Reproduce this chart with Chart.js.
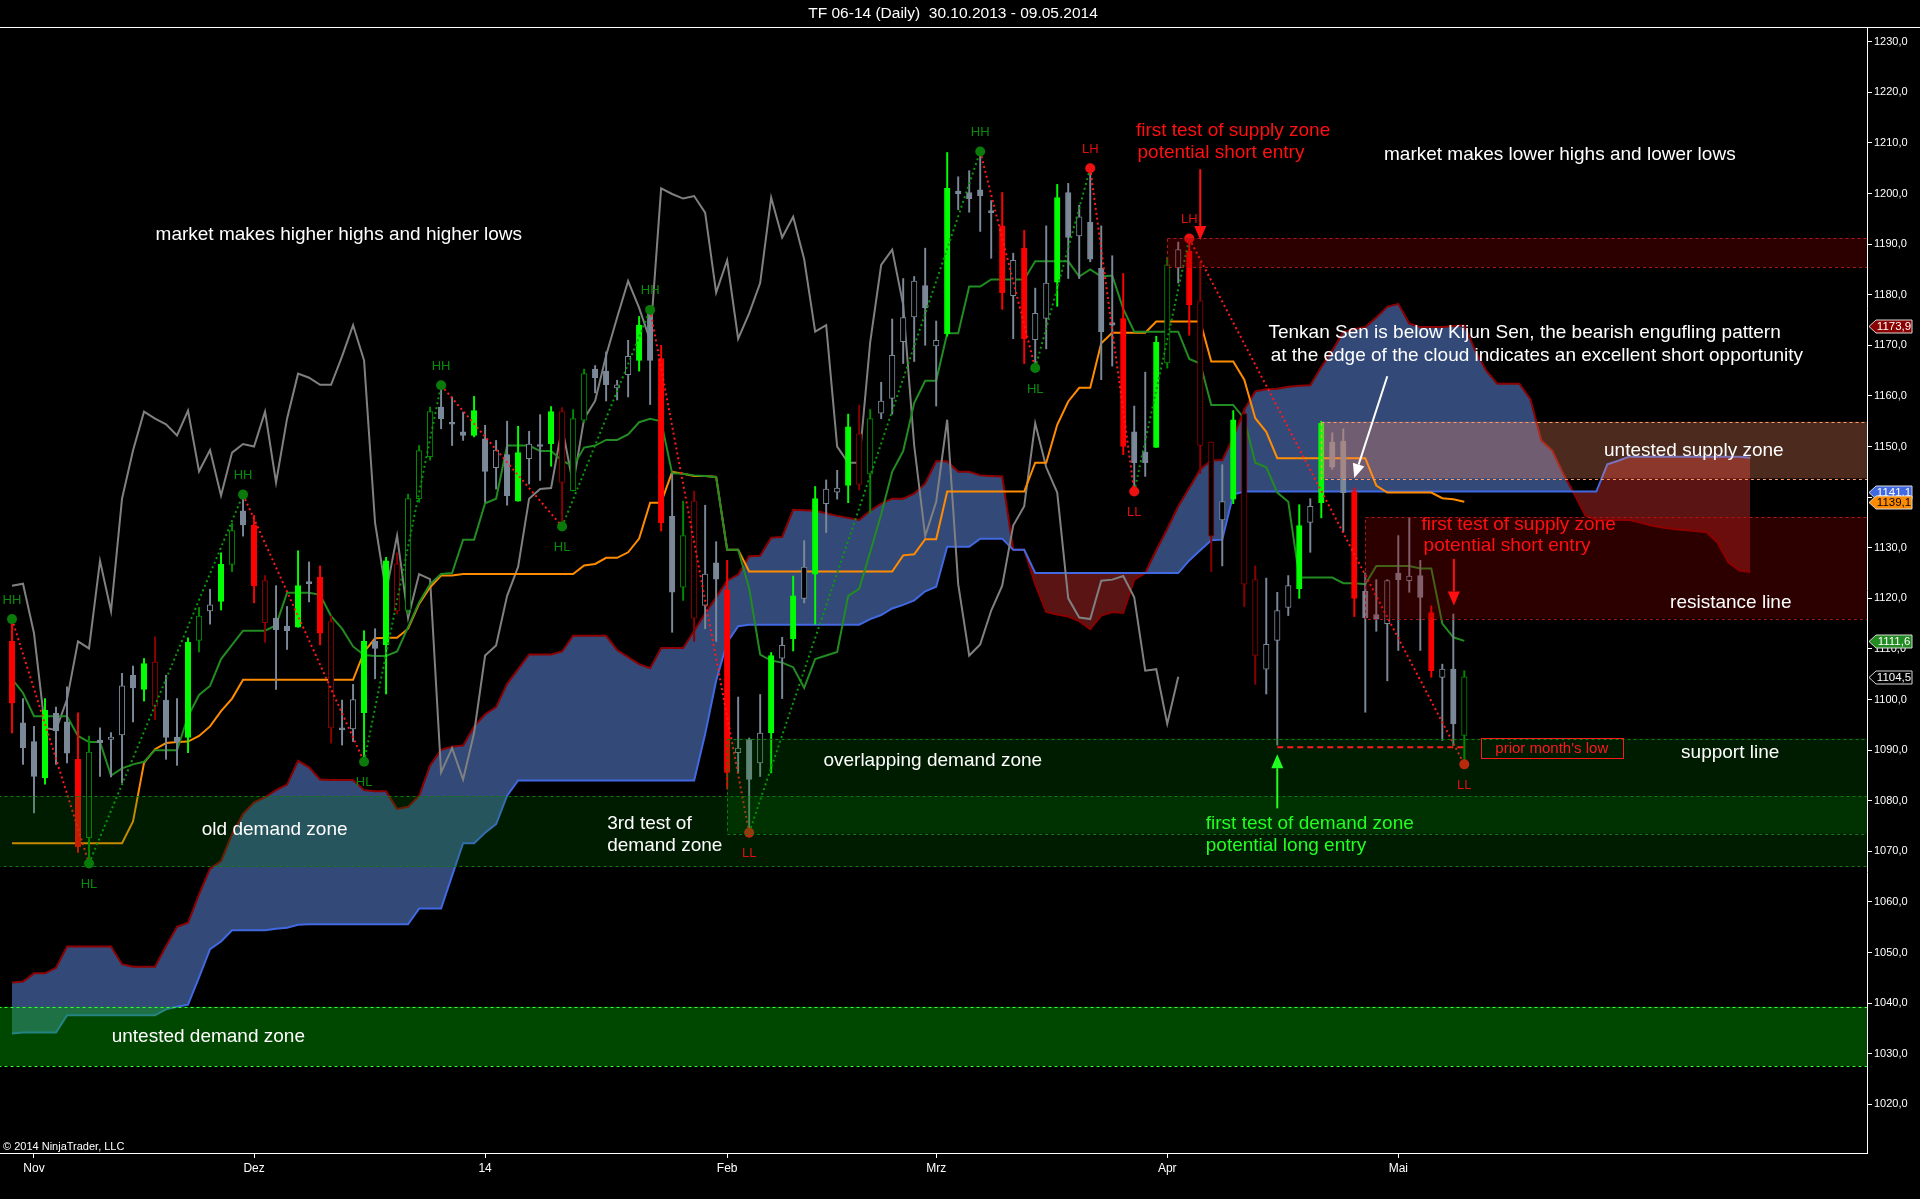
<!DOCTYPE html>
<html>
<head>
<meta charset="utf-8">
<title>TF 06-14 (Daily)</title>
<script src="https://cdn.jsdelivr.net/npm/chart.js@4.4.1/dist/chart.umd.min.js"></script>
<style>
  html, body { margin: 0; padding: 0; background: #000; overflow: hidden; }
  #chart { display: block; }
</style>
</head>
<body>
<canvas id="chart" width="1920" height="1199"></canvas>
<script>
// x axis: one slot per daily bar, months marked where they start
const monthTicks = [2, 22, 43, 65, 84, 105, 126];
const monthLabels = ['Nov', 'Dez', '14', 'Feb', 'Mrz', 'Apr', 'Mai'];
const priceTicks = [1020, 1030, 1040, 1050, 1060, 1070, 1080, 1090, 1100, 1110, 1120,
  1130, 1140, 1150, 1160, 1170, 1180, 1190, 1200, 1210, 1220, 1230];

// daily candles 30.10.2013 - 09.05.2014
let opens = [
  1111.5, 1095.4, 1091.7, 1084.5, 1097.3, 1095.6, 1088.2, 1072.7, 1092.0, 1092.1,
  1093.0, 1104.8, 1102.0, 1107.4, 1099.9, 1092.6, 1092.5, 1111.7, 1117.5, 1119.4,
  1126.7, 1137.3, 1134.5, 1123.5, 1116.1, 1114.5, 1114.3, 1123.3, 1124.2, 1115.4,
  1094.4, 1094.2, 1097.4, 1111.5, 1110.8, 1126.8, 1117.6, 1139.7, 1148.0, 1157.8,
  1154.7, 1152.9, 1152.2, 1151.5, 1145.8, 1148.4, 1139.2, 1147.6, 1150.2, 1150.5,
  1156.9, 1141.3, 1155.2, 1165.3, 1164.9, 1161.6, 1164.2, 1167.0, 1176.6, 1167.4,
  1136.2, 1122.2, 1139.2, 1118.6, 1127.0, 1121.7, 1089.5, 1092.1, 1087.5, 1093.4,
  1108.2, 1112.0, 1120.0, 1124.8, 1138.7, 1141.0, 1142.3, 1152.5, 1144.6, 1156.6,
  1159.5, 1170.7, 1175.6, 1181.8, 1169.9, 1172.3, 1200.5, 1200.2, 1200.7, 1196.6,
  1193.6, 1179.8, 1189.2, 1171.1, 1175.3, 1182.5, 1200.2, 1191.6, 1194.3, 1185.2,
  1174.5, 1175.3, 1152.9, 1148.9, 1149.8, 1166.5, 1185.3, 1188.6, 1178.8, 1150.9,
  1135.5, 1139.6, 1156.5, 1123.7, 1106.0, 1111.7, 1118.2, 1121.9, 1135.0, 1138.9,
  1150.9, 1151.1, 1141.1, 1121.4, 1116.8, 1115.0, 1125.0, 1123.5, 1124.5, 1117.2,
  1104.4, 1106.0, 1092.9
];
let highs = [
  1115.9, 1100.2, 1094.7, 1100.2, 1098.5, 1102.5, 1097.4, 1092.8, 1094.4, 1093.5,
  1105.2, 1106.6, 1108.1, 1112.4, 1104.8, 1100.2, 1112.2, 1118.2, 1121.8, 1129.0,
  1134.8, 1140.5, 1136.4, 1124.5, 1122.5, 1118.4, 1129.4, 1127.2, 1126.4, 1116.5,
  1099.9, 1103.0, 1113.6, 1114.0, 1128.1, 1129.0, 1140.6, 1150.2, 1157.8, 1162.1,
  1159.8, 1156.8, 1159.9, 1154.2, 1151.2, 1155.0, 1154.0, 1153.0, 1156.3, 1157.9,
  1157.7, 1157.3, 1165.3, 1166.0, 1168.7, 1163.1, 1171.0, 1175.7, 1177.0, 1170.0,
  1144.6, 1139.2, 1141.2, 1138.4, 1131.2, 1127.5, 1100.5, 1092.4, 1101.0, 1109.3,
  1112.3, 1124.4, 1131.4, 1142.1, 1143.4, 1145.3, 1156.4, 1158.2, 1157.3, 1162.7,
  1175.2, 1183.2, 1183.6, 1189.2, 1174.8, 1208.1, 1203.3, 1204.5, 1208.3, 1198.6,
  1200.2, 1188.2, 1192.7, 1181.3, 1193.6, 1201.8, 1202.0, 1197.7, 1205.0, 1193.6,
  1187.7, 1184.2, 1158.0, 1164.7, 1171.8, 1187.4, 1190.4, 1191.1, 1186.5, 1150.9,
  1146.4, 1157.1, 1157.5, 1126.4, 1124.0, 1121.2, 1124.5, 1138.5, 1139.7, 1155.0,
  1152.7, 1153.5, 1141.8, 1125.0, 1123.7, 1123.7, 1132.4, 1136.0, 1127.5, 1118.5,
  1107.0, 1116.9, 1105.7
];
let lows = [
  1093.4, 1087.2, 1077.6, 1083.3, 1087.2, 1087.5, 1069.8, 1067.6, 1084.8, 1084.7,
  1083.6, 1095.6, 1099.7, 1096.0, 1088.2, 1087.0, 1089.5, 1109.4, 1114.9, 1117.7,
  1125.3, 1132.3, 1119.1, 1111.3, 1102.0, 1109.9, 1114.3, 1119.3, 1110.8, 1091.4,
  1091.0, 1091.7, 1087.7, 1104.1, 1101.1, 1116.9, 1116.9, 1139.0, 1147.3, 1153.5,
  1150.2, 1151.2, 1151.9, 1139.0, 1141.6, 1138.4, 1139.2, 1142.6, 1143.3, 1146.1,
  1134.2, 1141.2, 1154.8, 1160.6, 1159.0, 1159.2, 1159.8, 1164.9, 1158.3, 1133.3,
  1113.3, 1119.6, 1111.5, 1114.0, 1111.5, 1082.3, 1085.5, 1073.7, 1084.8, 1085.5,
  1100.2, 1109.6, 1119.1, 1114.9, 1133.0, 1139.6, 1138.9, 1141.4, 1136.8, 1155.5,
  1156.4, 1166.4, 1166.8, 1170.0, 1158.0, 1171.8, 1196.8, 1196.3, 1192.5, 1187.2,
  1177.1, 1171.3, 1166.4, 1165.5, 1169.3, 1177.7, 1183.2, 1183.2, 1186.5, 1163.2,
  1165.9, 1148.4, 1141.1, 1144.1, 1149.8, 1165.5, 1182.3, 1172.0, 1144.7, 1125.3,
  1126.4, 1138.7, 1118.4, 1103.0, 1101.1, 1091.0, 1116.6, 1120.0, 1129.1, 1135.9,
  1145.5, 1133.1, 1116.4, 1097.5, 1113.5, 1103.7, 1109.7, 1121.2, 1109.7, 1104.4,
  1091.9, 1090.9, 1087.2
];
let closes = [
  1099.3, 1090.5, 1084.8, 1097.9, 1093.8, 1089.4, 1070.9, 1089.6, 1091.5, 1092.6,
  1102.7, 1102.3, 1107.1, 1098.7, 1092.5, 1091.6, 1111.3, 1116.5, 1118.7, 1126.7,
  1133.4, 1134.5, 1122.5, 1115.2, 1113.8, 1113.6, 1122.5, 1122.9, 1113.1, 1094.4,
  1094.0, 1100.0, 1111.5, 1110.1, 1127.4, 1117.5, 1139.7, 1149.2, 1156.9, 1155.5,
  1154.4, 1152.2, 1157.1, 1145.1, 1149.3, 1140.3, 1148.8, 1150.5, 1150.0, 1156.9,
  1142.9, 1155.5, 1164.4, 1163.6, 1162.2, 1162.2, 1167.8, 1174.0, 1167.0, 1134.9,
  1121.2, 1132.4, 1116.1, 1124.8, 1123.8, 1085.6, 1090.4, 1084.2, 1093.4, 1108.7,
  1110.7, 1120.5, 1126.2, 1139.7, 1141.6, 1141.8, 1153.9, 1142.5, 1155.5, 1159.0,
  1168.0, 1175.5, 1182.7, 1177.4, 1171.0, 1201.0, 1199.9, 1199.0, 1199.5, 1196.2,
  1180.4, 1186.8, 1171.3, 1176.3, 1182.3, 1199.2, 1191.3, 1195.4, 1187.0, 1172.7,
  1174.0, 1150.0, 1146.8, 1146.8, 1170.6, 1185.9, 1188.9, 1178.0, 1150.2, 1132.3,
  1139.1, 1155.3, 1122.8, 1108.7, 1110.9, 1117.6, 1122.5, 1134.4, 1138.2, 1154.6,
  1145.9, 1140.9, 1120.0, 1116.2, 1115.9, 1123.5, 1123.7, 1124.4, 1120.2, 1105.7,
  1106.0, 1095.2, 1104.5
];
// bar paint state of the original: G strong up, R strong down, u/d neutral up/down, g/r weak up/down
let barTone = [
  'R', 'd', 'd', 'G', 'd', 'd', 'R', 'g', 'd', 'u',
  'u', 'd', 'G', 'r', 'd', 'd', 'G', 'g', 'u', 'G',
  'g', 'd', 'R', 'r', 'd', 'd', 'G', 'd', 'R', 'r',
  'd', 'u', 'G', 'd', 'G', 'r', 'g', 'g', 'g', 'd',
  'd', 'd', 'G', 'd', 'u', 'd', 'G', 'u', 'd', 'G',
  'r', 'g', 'g', 'd', 'd', 'u', 'u', 'G', 'd', 'R',
  'd', 'g', 'r', 'u', 'd', 'R', 'u', 'd', 'u', 'G',
  'u', 'G', 'u', 'G', 'u', 'u', 'G', 'r', 'g', 'u',
  'u', 'u', 'u', 'd', 'u', 'G', 'd', 'd', 'd', 'd',
  'R', 'u', 'R', 'u', 'u', 'G', 'd', 'u', 'd', 'd',
  'd', 'R', 'd', 'd', 'G', 'g', 'u', 'R', 'r', 'r',
  'u', 'G', 'r', 'r', 'u', 'u', 'u', 'G', 'u', 'G',
  'd', 'd', 'R', 'd', 'd', 'u', 'd', 'u', 'd', 'R',
  'u', 'd', 'g'
];

// Ichimoku lines
let tenkan = [
  1104.1, 1101.3, 1096.7, 1096.7, 1096.7, 1096.7, 1092.8, 1091.6, 1091.6, 1085.0,
  1086.4, 1087.2, 1087.7, 1090.0, 1090.0, 1090.0, 1096.7, 1100.9, 1102.7, 1108.0,
  1110.8, 1113.6, 1113.6, 1113.6, 1114.7, 1121.1, 1121.1, 1121.1, 1120.7, 1116.5,
  1114.0, 1110.5, 1108.8, 1108.6, 1108.6, 1109.5, 1114.3, 1119.2, 1122.8, 1124.8,
  1125.0, 1131.6, 1131.6, 1138.8, 1139.7, 1150.2, 1150.2, 1150.2, 1149.1, 1149.1,
  1147.2, 1146.1, 1149.8, 1150.2, 1151.3, 1151.3, 1152.4, 1154.8, 1155.5, 1155.0,
  1144.7, 1144.6, 1144.3, 1144.2, 1144.0, 1129.6, 1129.6, 1122.0, 1108.9, 1107.7,
  1107.3, 1106.4, 1102.3, 1108.0, 1108.7, 1109.4, 1120.5, 1121.9, 1129.1, 1136.6,
  1145.0, 1149.1, 1158.6, 1163.0, 1163.0, 1172.4, 1172.4, 1181.6, 1181.6, 1183.0,
  1183.0, 1183.0, 1183.0, 1186.6, 1186.6, 1186.6, 1186.6, 1183.6, 1185.0, 1183.6,
  1183.8, 1177.2, 1172.7, 1172.7, 1172.7, 1172.7, 1172.7, 1167.3, 1166.4, 1158.2,
  1158.2, 1158.2, 1155.5, 1146.8, 1145.9, 1140.9, 1139.1, 1124.1, 1124.1, 1124.1,
  1124.1, 1123.0, 1123.0, 1122.8, 1126.4, 1126.4, 1126.4, 1126.4, 1125.9, 1125.9,
  1115.0, 1112.3, 1111.6
];
let kijun = [
  1071.6, 1071.6, 1071.6, 1071.6, 1071.6, 1071.6, 1071.6, 1071.6, 1071.6, 1071.6,
  1071.6, 1075.9, 1087.5, 1090.2, 1091.4, 1091.6, 1091.7, 1092.8, 1094.7, 1097.7,
  1100.2, 1103.9, 1103.9, 1103.9, 1103.9, 1103.9, 1103.9, 1103.9, 1103.9, 1103.9,
  1103.9, 1103.9, 1109.4, 1112.1, 1112.2, 1112.2, 1114.0, 1118.9, 1122.2, 1124.5,
  1124.5, 1124.8, 1124.8, 1124.8, 1124.8, 1124.8, 1124.8, 1124.8, 1124.8, 1124.8,
  1124.8, 1124.8, 1126.5, 1126.8, 1128.0, 1128.0, 1129.1, 1131.8, 1138.9, 1138.9,
  1145.0, 1144.6, 1144.2, 1144.2, 1144.0, 1129.6, 1129.6, 1125.3, 1125.3, 1125.3,
  1125.3, 1125.3, 1125.3, 1125.3, 1125.3, 1125.3, 1125.3, 1125.3, 1125.3, 1125.3,
  1125.3, 1128.5, 1128.7, 1131.7, 1131.7, 1141.1, 1141.1, 1141.1, 1141.1, 1141.1,
  1141.1, 1141.1, 1141.1, 1146.8, 1146.8, 1154.3, 1158.9, 1161.6, 1161.6, 1170.4,
  1172.5, 1172.5, 1172.5, 1172.5, 1174.7, 1174.7, 1174.7, 1174.7, 1174.7, 1166.8,
  1166.8, 1166.8, 1163.2, 1155.6, 1152.9, 1147.7, 1147.7, 1147.7, 1147.7, 1147.7,
  1147.7, 1147.7, 1147.7, 1147.7, 1142.3, 1140.9, 1140.9, 1140.9, 1140.9, 1140.9,
  1139.8, 1139.6, 1139.1
];
// leading spans run 26 bars past the last candle
let senkouA = [
  1044.1, 1044.3, 1045.9, 1045.9, 1047.0, 1051.2, 1051.2, 1051.2, 1051.2, 1051.2,
  1047.7, 1047.2, 1047.2, 1047.2, 1051.3, 1055.1, 1055.9, 1061.5, 1066.6, 1068.1,
  1073.4, 1077.4, 1079.7, 1080.7, 1082.1, 1083.2, 1087.9, 1086.6, 1084.2, 1084.1,
  1084.1, 1084.1, 1082.1, 1081.9, 1081.9, 1078.4, 1078.8, 1081.0, 1087.0, 1090.1,
  1090.7, 1090.9, 1094.7, 1097.1, 1098.5, 1103.1, 1106.0, 1108.9, 1108.9, 1108.9,
  1109.5, 1112.6, 1112.6, 1112.6, 1112.6, 1109.8, 1108.4, 1107.0, 1106.2, 1110.2,
  1110.2, 1110.2, 1113.6, 1117.0, 1120.2, 1123.5, 1124.7, 1128.3, 1128.4, 1132.0,
  1132.1, 1137.5, 1137.4, 1137.3, 1136.8, 1136.3, 1135.9, 1135.5, 1137.3, 1138.7,
  1139.7, 1139.7, 1140.7, 1142.7, 1147.1, 1147.1, 1145.0, 1145.0, 1144.3, 1144.2,
  1144.1, 1129.6, 1129.6, 1122.8, 1117.3, 1116.8, 1116.4, 1115.5, 1113.9, 1116.6,
  1117.3, 1117.1, 1123.7, 1125.0, 1129.5, 1133.7, 1138.2, 1141.8, 1145.5, 1147.3,
  1147.3, 1151.8, 1157.3, 1160.9, 1161.3, 1161.4, 1161.8, 1162.0, 1162.1, 1165.7,
  1169.0, 1172.6, 1173.2, 1173.6, 1175.5, 1177.6, 1178.2, 1174.3, 1173.6, 1173.6,
  1173.6, 1173.8, 1173.9, 1169.0, 1165.0, 1162.4, 1162.4, 1162.4, 1159.4, 1151.2,
  1149.2, 1144.6, 1140.6, 1136.4, 1135.5, 1135.5, 1135.5, 1135.5, 1135.0, 1134.4,
  1134.0, 1133.7, 1133.5, 1133.3, 1133.1, 1131.1, 1127.1, 1125.5, 1125.2
];
let senkouB = [
  1034.0, 1034.2, 1034.2, 1034.2, 1034.2, 1037.6, 1037.6, 1037.6, 1037.6, 1037.6,
  1037.6, 1037.6, 1037.6, 1037.6, 1038.8, 1039.3, 1039.7, 1045.1, 1050.7, 1052.2,
  1054.4, 1054.4, 1054.4, 1054.4, 1054.7, 1054.9, 1055.5, 1055.6, 1055.6, 1055.6,
  1055.6, 1055.6, 1055.6, 1055.6, 1055.6, 1055.6, 1055.6, 1058.7, 1058.7, 1058.7,
  1065.2, 1071.6, 1071.6, 1073.7, 1075.4, 1081.0, 1084.0, 1084.0, 1084.0, 1084.0,
  1084.0, 1084.0, 1084.0, 1084.0, 1084.0, 1084.0, 1084.0, 1084.0, 1084.0, 1084.0,
  1084.0, 1084.0, 1084.0, 1093.2, 1103.7, 1111.3, 1114.5, 1114.8, 1114.8, 1114.8,
  1114.8, 1114.8, 1114.8, 1114.8, 1114.8, 1114.8, 1114.8, 1114.8, 1115.9, 1116.7,
  1118.0, 1118.7, 1119.6, 1121.4, 1122.3, 1130.2, 1130.2, 1130.2, 1131.8, 1131.8,
  1131.8, 1129.6, 1129.6, 1125.0, 1125.0, 1125.0, 1125.0, 1125.0, 1125.0, 1125.0,
  1125.0, 1125.0, 1125.0, 1125.0, 1125.0, 1125.0, 1125.0, 1127.5, 1129.5, 1131.5,
  1131.6, 1140.5, 1141.1, 1141.1, 1141.1, 1141.1, 1141.1, 1141.1, 1141.1, 1141.1,
  1141.1, 1141.1, 1141.1, 1141.1, 1141.1, 1141.1, 1141.1, 1141.1, 1141.1, 1141.1,
  1141.1, 1141.1, 1141.1, 1141.1, 1141.1, 1141.1, 1141.1, 1141.1, 1141.1, 1141.1,
  1141.1, 1141.1, 1141.1, 1141.1, 1141.1, 1146.5, 1147.2, 1148.0, 1148.0, 1148.0,
  1148.0, 1148.0, 1148.0, 1148.0, 1148.0, 1148.0, 1148.0, 1148.0, 1147.8
];

// swing points of the trend structure
let swingBars = [0, 7, 21, 32, 39, 50, 58, 67, 88, 93, 98, 102, 107, 132];
let swingPrices = [1115.9, 1067.6, 1140.5, 1087.7, 1162.1, 1134.2, 1177.0, 1073.7, 1208.3, 1165.5, 1205.0, 1141.1, 1191.1, 1087.2];
let swingLabels = ['HH', 'HL', 'HH', 'HL', 'HH', 'HL', 'HH', 'LL', 'HH', 'HL', 'LH', 'LL', 'LH', 'LL'];

// supply / demand zones: first bar, lower and upper price
let zones = [
  { kind: 'demandFresh', from: null, lo: 1027.6, hi: 1039.3 },
  { kind: 'demandOld', from: null, lo: 1067.0, hi: 1080.9 },
  { kind: 'demandOld', from: 65, lo: 1073.5, hi: 1092.3 },
  { kind: 'supply', from: 105, lo: 1185.4, hi: 1191.2 },
  { kind: 'supplyFresh', from: 119, lo: 1143.7, hi: 1154.9 },
  { kind: 'supply', from: 123, lo: 1116.0, hi: 1136.1 }
];
let priorLow = { from: 115, to: 132, price: 1090.6 };

let notes = [
  { text: 'market makes higher highs and higher lows', bar: 13.05, price: 1191.8, tone: 'w' },
  { text: 'market makes lower highs and lower lows', bar: 124.7, price: 1207.6, tone: 'w' },
  { text: 'first test of supply zone', bar: 102.15, price: 1212.3, tone: 'r' },
  { text: 'potential short entry', bar: 102.3, price: 1208.0, tone: 'r' },
  { text: 'Tenkan Sen is below Kijun Sen, the bearish engufling pattern', bar: 114.2, price: 1172.4, tone: 'w' },
  { text: 'at the edge of the cloud indicates an excellent short opportunity', bar: 114.4, price: 1168.0, tone: 'w' },
  { text: 'untested supply zone', bar: 144.7, price: 1149.1, tone: 'w' },
  { text: 'first test of supply zone', bar: 128.1, price: 1134.6, tone: 'r' },
  { text: 'potential short entry', bar: 128.3, price: 1130.3, tone: 'r' },
  { text: 'resistance line', bar: 150.7, price: 1119.1, tone: 'w' },
  { text: 'support line', bar: 151.7, price: 1089.5, tone: 'w' },
  { text: 'overlapping demand zone', bar: 73.75, price: 1088.0, tone: 'w' },
  { text: 'old demand zone', bar: 17.25, price: 1074.3, tone: 'w' },
  { text: '3rd test of', bar: 54.1, price: 1075.5, tone: 'w' },
  { text: 'demand zone', bar: 54.1, price: 1071.1, tone: 'w' },
  { text: 'first test of demand zone', bar: 108.5, price: 1075.5, tone: 'g' },
  { text: 'potential long entry', bar: 108.5, price: 1071.1, tone: 'g' },
  { text: 'untested demand zone', bar: 9.06, price: 1033.3, tone: 'w' }
];
let arrows = [
  { bar0: 108, p0: 1204.8, bar1: 108, p1: 1190.8, tone: 'r' },
  { bar0: 131.05, p0: 1127.8, bar1: 131.05, p1: 1118.6, tone: 'r' },
  { bar0: 115, p0: 1078.5, bar1: 115, p1: 1089.2, tone: 'g' },
  { bar0: 125.0, p0: 1163.9, bar1: 122.0, p1: 1143.8, tone: 'w' }
];

// ---- styling ----
const FONT = "'Liberation Sans', Arial, sans-serif";
const toneColor = { G: '#00ff00', R: '#ff0000', u: '#7a8898', d: '#7a8898', g: '#008a00', r: '#8b0000' };
const hollow = { u: true, g: true, r: true };
const textColor = { w: '#ffffff', r: '#ff1010', g: '#22ff22' };
const zoneStyle = {
  demandFresh: { fill: 'rgba(0,170,0,0.42)', line: '#33ff33' },
  demandOld: { fill: 'rgba(0,128,0,0.22)', line: '#127a12' },
  supply: { fill: 'rgba(150,0,0,0.30)', line: '#b01414' },
  supplyFresh: { fill: 'rgba(255,140,100,0.30)', line: '#ff9966' }
};

const idx = opens.map((_, i) => i);
const last = closes.length - 1;
const wickData = idx.map(i => ({ x: i, y: [lows[i], highs[i]] }));
const bodyData = idx.map(i => ({ x: i, y: [Math.min(opens[i], closes[i]), Math.max(opens[i], closes[i])] }));
const asPoints = arr => arr.map((v, i) => ({ x: i, y: v }));
const chikou = closes.slice(26);

// current values tagged on the price axis
const axisTags = [
  { value: senkouA[last], fill: '#8b0000', ink: '#ffffff' },
  { value: senkouB[last], fill: '#4169e1', ink: '#ffffff' },
  { value: kijun[last], fill: '#ff8c00', ink: '#000000' },
  { value: tenkan[last], fill: '#228b22', ink: '#ffffff' },
  { value: closes[last], fill: '#000000', ink: '#ffffff' }
];

function drawArrow(ctx, x0, y0, x1, y1, color) {
  const a = Math.atan2(y1 - y0, x1 - x0), head = 14, half = 6;
  const bx = x1 - head * Math.cos(a), by = y1 - head * Math.sin(a);
  ctx.strokeStyle = color;
  ctx.fillStyle = color;
  ctx.lineWidth = 2;
  ctx.setLineDash([]);
  ctx.beginPath();
  ctx.moveTo(x0, y0);
  ctx.lineTo(bx, by);
  ctx.stroke();
  ctx.beginPath();
  ctx.moveTo(x1, y1);
  ctx.lineTo(bx + half * Math.sin(a), by - half * Math.cos(a));
  ctx.lineTo(bx - half * Math.sin(a), by + half * Math.cos(a));
  ctx.closePath();
  ctx.fill();
}

const overlays = {
  id: 'overlays',
  beforeDraw(chart) {
    const ctx = chart.ctx;
    ctx.save();
    ctx.fillStyle = '#000';
    ctx.fillRect(0, 0, chart.width, chart.height);
    ctx.restore();
  },
  afterDatasetsDraw(chart) {
    const { ctx, chartArea: area } = chart;
    const X = v => chart.scales.x.getPixelForValue(v);
    const Y = v => chart.scales.y.getPixelForValue(v);
    ctx.save();
    ctx.beginPath();
    ctx.rect(area.left, area.top, area.right - area.left, area.bottom - area.top);
    ctx.clip();

    zones.forEach(z => {
      const st = zoneStyle[z.kind];
      const x0 = z.from === null ? area.left - 2 : X(z.from);
      const x1 = area.right + 2;
      const y0 = Y(z.hi), y1 = Y(z.lo);
      ctx.fillStyle = st.fill;
      ctx.fillRect(x0, y0, x1 - x0, y1 - y0);
      ctx.strokeStyle = st.line;
      ctx.lineWidth = 1;
      ctx.setLineDash([3, 3]);
      ctx.strokeRect(Math.round(x0) + 0.5, Math.round(y0) + 0.5, x1 - x0, Math.round(y1 - y0));
    });

    // prior month's low
    ctx.strokeStyle = '#ff1a1a';
    ctx.lineWidth = 2;
    ctx.setLineDash([6, 4]);
    ctx.beginPath();
    ctx.moveTo(X(priorLow.from), Y(priorLow.price));
    ctx.lineTo(X(priorLow.to), Y(priorLow.price));
    ctx.stroke();
    ctx.setLineDash([]);
    ctx.lineWidth = 1;
    const bx0 = X(133.5), bx1 = X(146.4), by0 = Y(1092.4), by1 = Y(1088.5);
    ctx.strokeRect(Math.round(bx0) + 0.5, Math.round(by0) + 0.5, Math.round(bx1 - bx0), Math.round(by1 - by0));
    ctx.fillStyle = '#ff1a1a';
    ctx.font = '15px ' + FONT;
    ctx.textAlign = 'center';
    ctx.textBaseline = 'middle';
    ctx.fillText("prior month's low", (bx0 + bx1) / 2, (by0 + by1) / 2 + 1);

    // swing labels
    ctx.font = '13px ' + FONT;
    swingBars.forEach((b, k) => {
      const lab = swingLabels[k];
      const isHigh = lab === 'HH' || lab === 'LH';
      ctx.fillStyle = (lab === 'HH' || lab === 'HL') ? '#0a8a0a' : '#e01010';
      ctx.fillText(lab, X(b), Y(swingPrices[k]) + (isHigh ? -19 : 21));
    });

    arrows.forEach(a => drawArrow(ctx, X(a.bar0), Y(a.p0), X(a.bar1), Y(a.p1), textColor[a.tone]));

    ctx.font = '19px ' + FONT;
    ctx.textAlign = 'left';
    notes.forEach(n => {
      ctx.fillStyle = textColor[n.tone];
      ctx.fillText(n.text, X(n.bar), Y(n.price));
    });
    ctx.restore();
  },
  afterDraw(chart) {
    const ctx = chart.ctx;
    const area = chart.chartArea;
    const Y = v => chart.scales.y.getPixelForValue(v);
    ctx.save();
    ctx.strokeStyle = '#ffffff';
    ctx.lineWidth = 1;
    ctx.beginPath();
    ctx.moveTo(0, 27.5);
    ctx.lineTo(chart.width, 27.5);
    ctx.stroke();

    // value tags on the price axis
    ctx.font = '11.5px ' + FONT;
    ctx.textAlign = 'center';
    ctx.textBaseline = 'middle';
    axisTags.forEach(t => {
      const y = Math.round(Y(t.value)) + 0.5;
      const x0 = area.right + 2, x1 = x0 + 43, h = 6.5;
      ctx.beginPath();
      ctx.moveTo(x0, y);
      ctx.lineTo(x0 + 7, y - h);
      ctx.lineTo(x1, y - h);
      ctx.lineTo(x1, y + h);
      ctx.lineTo(x0 + 7, y + h);
      ctx.closePath();
      ctx.fillStyle = t.fill;
      ctx.fill();
      ctx.strokeStyle = '#d8d8d8';
      ctx.stroke();
      ctx.fillStyle = t.ink;
      ctx.fillText(t.value.toFixed(1).replace('.', ','), (x0 + 7 + x1) / 2, y + 0.5);
    });

    ctx.fillStyle = '#ffffff';
    ctx.font = '15.5px ' + FONT;
    ctx.textAlign = 'center';
    ctx.fillText('TF 06-14 (Daily)  30.10.2013 - 09.05.2014', 953, 14);
    ctx.font = '11px ' + FONT;
    ctx.textAlign = 'left';
    ctx.fillText('\u00a9 2014 NinjaTrader, LLC', 3, 1147);
    ctx.restore();
  }
};

const lineDefaults = { type: 'line', pointRadius: 0, borderWidth: 2, tension: 0, fill: false };

new Chart(document.getElementById('chart').getContext('2d'), {
  type: 'line',
  data: {
    datasets: [
      Object.assign({}, lineDefaults, {
        label: 'Senkou Span A',
        data: asPoints(senkouA),
        borderColor: '#8b0000',
        fill: { target: 1, above: 'rgba(102,146,240,0.5)', below: 'rgba(180,40,40,0.5)' },
        order: 10
      }),
      Object.assign({}, lineDefaults, {
        label: 'Senkou Span B',
        data: asPoints(senkouB),
        borderColor: '#4169e1',
        order: 9
      }),
      Object.assign({}, lineDefaults, {
        label: 'Chikou Span',
        data: asPoints(chikou),
        borderColor: '#808080',
        order: 8
      }),
      Object.assign({}, lineDefaults, {
        label: 'Kijun Sen',
        data: asPoints(kijun),
        borderColor: '#ff8c00',
        order: 7
      }),
      Object.assign({}, lineDefaults, {
        label: 'Tenkan Sen',
        data: asPoints(tenkan),
        borderColor: '#228b22',
        order: 6
      }),
      {
        type: 'bar',
        label: 'wicks',
        data: wickData,
        backgroundColor: idx.map(i => toneColor[barTone[i]]),
        borderWidth: 0,
        barThickness: 1.3,
        grouped: false,
        order: 4
      },
      {
        type: 'bar',
        label: 'bodies',
        data: bodyData,
        backgroundColor: idx.map(i => hollow[barTone[i]] ? '#000' : toneColor[barTone[i]]),
        borderColor: idx.map(i => toneColor[barTone[i]]),
        borderWidth: 1,
        borderSkipped: false,
        barThickness: 5.5,
        minBarLength: 2,
        grouped: false,
        order: 3
      },
      {
        type: 'line',
        label: 'swings',
        data: swingBars.map((b, k) => ({ x: b, y: swingPrices[k] })),
        borderWidth: 2,
        borderDash: [2, 3],
        borderColor: '#ff1a1a',
        segment: { borderColor: s => s.p1.parsed.y > s.p0.parsed.y ? '#0a9a0a' : '#ff1a1a' },
        pointRadius: 5,
        pointBorderWidth: 0,
        pointBackgroundColor: swingLabels.map(l => (l === 'HH' || l === 'HL') ? '#0a7a0a' : '#ee1111'),
        fill: false,
        order: 1
      }
    ]
  },
  options: {
    responsive: false,
    devicePixelRatio: 1,
    animation: false,
    layout: { autoPadding: false, padding: { top: 27, left: 0, right: 0, bottom: 0 } },
    plugins: { legend: { display: false }, tooltip: { enabled: false }, title: { display: false } },
    scales: {
      x: {
        type: 'linear',
        min: -1.09,
        max: 168.6,
        offset: false,
        afterBuildTicks: s => { s.ticks = monthTicks.map(v => ({ value: v })); },
        afterFit: s => { s.height = 46; s.paddingLeft = 0; s.paddingRight = 0; },
        ticks: {
          autoSkip: false,
          maxRotation: 0,
          color: '#ffffff',
          padding: 3,
          font: { family: FONT, size: 12 },
          callback: v => monthLabels[monthTicks.indexOf(v)] || ''
        },
        grid: { offset: false, drawOnChartArea: false, color: '#ffffff', tickLength: 5 },
        border: { color: '#ffffff', width: 1 }
      },
      y: {
        type: 'linear',
        position: 'right',
        min: 1010.4,
        max: 1232.9,
        afterBuildTicks: s => { s.ticks = priceTicks.map(v => ({ value: v })); },
        afterFit: s => { s.width = 53; s.paddingTop = 0; s.paddingBottom = 0; },
        ticks: {
          color: '#ffffff',
          padding: 2,
          font: { family: FONT, size: 11 },
          callback: v => v.toFixed(1).replace('.', ',')
        },
        grid: { offset: false, drawOnChartArea: false, color: '#ffffff', tickLength: 5 },
        border: { color: '#ffffff', width: 1 }
      }
    }
  },
  plugins: [overlays]
});
</script>
</body>
</html>
